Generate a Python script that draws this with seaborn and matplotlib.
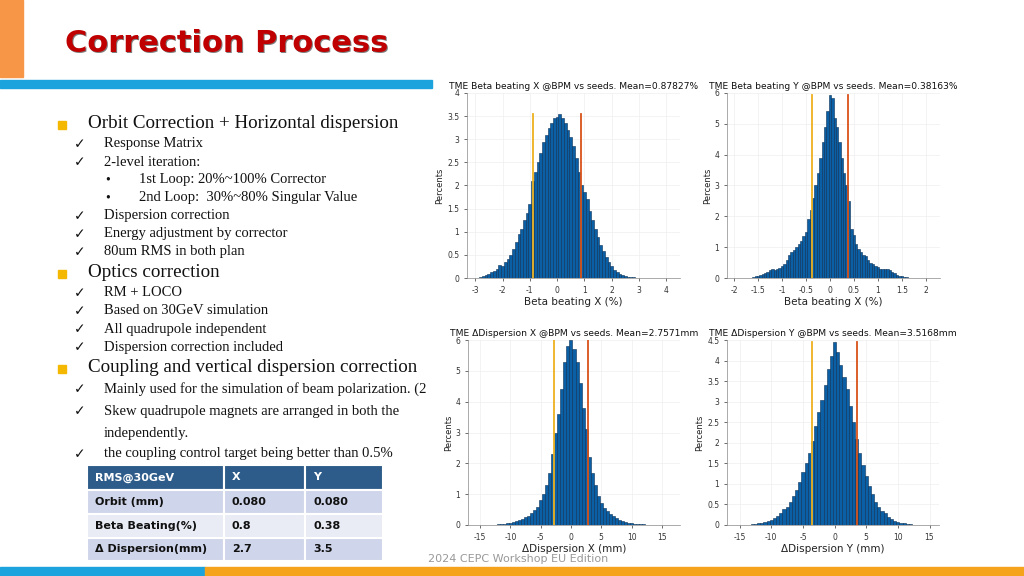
import numpy as np
import pandas as pd
import matplotlib
matplotlib.use("Agg")
import matplotlib.pyplot as plt
import seaborn as sns
from matplotlib.patches import Rectangle

# ---------------- data ----------------
bx_start, bx_w = -2.8, 0.1
bx_h = [0.02,0.04,0.06,0.08,0.12,0.16,0.2,0.28,0.25,0.35,0.42,0.5,0.62,0.78,0.95,1.05,1.25,1.4,1.6,2.1,
        2.3,2.5,2.7,2.95,3.1,3.25,3.35,3.45,3.48,3.55,3.45,3.35,3.2,3.05,2.85,2.6,2.3,2.0,1.85,1.7,
        1.45,1.25,1.05,0.88,0.72,0.58,0.45,0.35,0.25,0.18,0.12,0.09,0.06,0.04,0.03,0.02,0.015,0.01,0.01]
by_start, by_w = -1.6, 0.05
by_h = [0.02,0.05,0.08,0.1,0.12,0.15,0.2,0.25,0.28,0.27,0.3,0.33,0.38,0.45,0.6,0.75,0.85,0.9,1.0,1.1,
        1.2,1.35,1.5,1.9,2.2,2.6,3.0,3.4,3.9,4.4,4.9,5.4,5.95,5.85,5.2,4.9,4.4,3.9,3.4,3.0,
        2.5,1.6,1.4,1.1,0.95,0.85,0.75,0.7,0.6,0.5,0.45,0.4,0.35,0.3,0.28,0.3,0.28,0.25,0.2,0.15,
        0.1,0.07,0.05,0.03,0.02]
dx_start, dx_w = -12.0, 0.5
dx_h = [0.02,0.03,0.04,0.05,0.07,0.1,0.12,0.16,0.2,0.25,0.3,0.38,0.5,0.6,0.8,1.0,1.3,1.7,2.3,3.0,
        3.6,4.4,5.3,5.8,6.0,5.7,5.3,4.6,3.8,3.1,2.2,1.7,1.3,0.95,0.7,0.55,0.45,0.35,0.28,0.22,
        0.16,0.12,0.09,0.07,0.05,0.04,0.03,0.02,0.02]
dy_start, dy_w = -13.0, 0.5
dy_h = [0.02,0.03,0.04,0.05,0.07,0.09,0.12,0.16,0.22,0.3,0.38,0.45,0.55,0.7,0.85,1.05,1.3,1.5,1.75,2.05,
        2.4,2.75,3.05,3.4,3.8,4.1,4.45,4.2,3.9,3.6,3.3,2.9,2.5,2.1,1.75,1.45,1.2,0.95,0.75,0.55,
        0.45,0.35,0.28,0.2,0.15,0.1,0.07,0.05,0.04,0.03,0.02]

panels = [
    dict(start=bx_start, w=bx_w, h=bx_h, mean=0.87827, title="TME Beta beating X @BPM vs seeds. Mean=0.87827%",
         xlabel="Beta beating X (%)", xlim=(-3.3, 4.5), ylim=(0, 4), xt=[-3,-2,-1,0,1,2,3,4],
         yt=[0,0.5,1,1.5,2,2.5,3,3.5,4], pos=(467, 93, 680, 278)),
    dict(start=by_start, w=by_w, h=by_h, mean=0.38163, title="TME Beta beating Y @BPM vs seeds. Mean=0.38163%",
         xlabel="Beta beating X (%)", xlim=(-2.15, 2.3), ylim=(0, 6), xt=[-2,-1.5,-1,-0.5,0,0.5,1,1.5,2],
         yt=[0,1,2,3,4,5,6], pos=(727, 93, 940, 278)),
    dict(start=dx_start, w=dx_w, h=dx_h, mean=2.7571, title="TME \u0394Dispersion X @BPM vs seeds. Mean=2.7571mm",
         xlabel="\u0394Dispersion X (mm)", xlim=(-17, 18), ylim=(0, 6), xt=[-15,-10,-5,0,5,10,15],
         yt=[0,1,2,3,4,5,6], pos=(468, 340, 680, 525)),
    dict(start=dy_start, w=dy_w, h=dy_h, mean=3.5168, title="TME \u0394Dispersion Y @BPM vs seeds. Mean=3.5168mm",
         xlabel="\u0394Dispersion Y (mm)", xlim=(-17, 16.5), ylim=(0, 4.5), xt=[-15,-10,-5,0,5,10,15],
         yt=[0,0.5,1,1.5,2,2.5,3,3.5,4,4.5], pos=(727, 340, 939, 525)),
]

table_rows = [["RMS@30GeV", "X", "Y"],
              ["Orbit (mm)", "0.080", "0.080"],
              ["Beta Beating(%)", "0.8", "0.38"],
              ["\u0394 Dispersion(mm)", "2.7", "3.5"]]

bullets = [
    ("sq", "Orbit Correction + Horizontal dispersion", 124),
    ("ck", "Response Matrix", 144),
    ("ck", "2-level iteration:", 162),
    ("dot", "1st Loop: 20%~100% Corrector", 180),
    ("dot", "2nd Loop:  30%~80% Singular Value", 198),
    ("ck", "Dispersion correction", 216),
    ("ck", "Energy adjustment by corrector", 234),
    ("ck", "80um RMS in both plan", 252),
    ("sq", "Optics correction", 273),
    ("ck", "RM + LOCO", 293),
    ("ck", "Based on 30GeV simulation", 311),
    ("ck", "All quadrupole independent", 329),
    ("ck", "Dispersion correction included", 347),
    ("sq", "Coupling and vertical dispersion correction", 368),
    ("ck", "Mainly used for the simulation of beam polarization. (2", 389),
    ("ck", "Skew quadrupole magnets are arranged in both the", 411),
    ("", "independently.", 433),
    ("ck", "the coupling control target being better than 0.5%", 454),
]

# ---------------- figure ----------------
W, H = 1024, 576
fig = plt.figure(figsize=(10.24, 5.76), dpi=100)
fig.patch.set_facecolor("white")

def fx(x): return x / W
def fy(y): return 1 - y / H

fig.patches.append(Rectangle((0, fy(77)), fx(23), 77 / H, transform=fig.transFigure, color="#F79646", zorder=0))
fig.patches.append(Rectangle((0, fy(88)), fx(432), 8 / H, transform=fig.transFigure, color="#1CA3DD", zorder=0))
fig.patches.append(Rectangle((0, 0), fx(205), 9 / H, transform=fig.transFigure, color="#1CA3DD", zorder=0))
fig.patches.append(Rectangle((fx(205), 0), 1 - fx(205), 9 / H, transform=fig.transFigure, color="#F5A31A", zorder=0))

fig.text(fx(66.5), fy(44.5), "Correction Process", fontsize=22, fontweight="bold", color="#7F7F7F",
         va="center", ha="left", family="DejaVu Sans")
fig.text(fx(65), fy(43), "Correction Process", fontsize=22, fontweight="bold", color="#C00000",
         va="center", ha="left", family="DejaVu Sans")

serif = "Liberation Serif"
for kind, txt, y in bullets:
    if kind == "sq":
        fig.patches.append(Rectangle((fx(58), fy(y + 5)), fx(8), 8 / H, transform=fig.transFigure, color="#F5B800"))
        fig.text(fx(88), fy(y), txt, fontsize=13.7, family=serif, va="center", color="#111111")
    elif kind == "ck":
        fig.text(fx(74), fy(y), "\u2713", fontsize=10, family="DejaVu Sans", va="center", color="#111111")
        fig.text(fx(104), fy(y), txt, fontsize=10.5, family=serif, va="center", color="#111111")
    elif kind == "dot":
        fig.text(fx(105), fy(y), "\u2022", fontsize=10, family=serif, va="center", color="#111111")
        fig.text(fx(139), fy(y), txt, fontsize=10.5, family=serif, va="center", color="#111111")
    else:
        fig.text(fx(104), fy(y), txt, fontsize=10.5, family=serif, va="center", color="#111111")

# table
col_x = [87, 224, 305, 383]
row_y = [465, 490, 514, 538, 561]
for r, row in enumerate(table_rows):
    for c, val in enumerate(row):
        x0, x1 = col_x[c], col_x[c + 1]
        y0, y1 = row_y[r], row_y[r + 1]
        color = "#2E5C8A" if r == 0 else ("#CFD5EA" if r % 2 == 1 else "#E9EBF5")
        fig.patches.append(Rectangle((fx(x0), fy(y1)), fx(x1 - x0), (y1 - y0) / H,
                                     transform=fig.transFigure, facecolor=color, edgecolor="white", lw=1.5))
        fig.text(fx(x0 + 8), fy((y0 + y1) / 2), val, fontsize=8, fontweight="bold",
                 color="white" if r == 0 else "#111111", va="center", family="DejaVu Sans")

fig.text(fx(428), fy(559), "2024 CEPC Workshop EU Edition", fontsize=8, color="#999999", va="center",
         zorder=-1)

# histograms
for p in panels:
    x0, y0, x1, y1 = p["pos"]
    ax = fig.add_axes([fx(x0), fy(y1), fx(x1 - x0), (y1 - y0) / H])
    n = len(p["h"])
    centers = p["start"] + p["w"] * np.arange(n)
    df = pd.DataFrame({"x": centers, "wt": p["h"]})
    lo = p["start"] - p["w"] / 2
    sns.histplot(data=df, x="x", weights="wt", binwidth=p["w"], binrange=(lo, lo + n * p["w"]),
                 ax=ax, color="#0B5FA5", alpha=1, edgecolor="#0A2F55", linewidth=0.4)
    top = max(p["h"])
    ax.plot([-p["mean"], -p["mean"]], [0, top], color="#EDB120", lw=1.3)
    ax.plot([p["mean"], p["mean"]], [0, top], color="#D95319", lw=1.3)
    ax.set_xlim(*p["xlim"]); ax.set_ylim(*p["ylim"])
    ax.set_xticks(p["xt"]); ax.set_yticks(p["yt"])
    ax.set_xticklabels([f"{v:g}" for v in p["xt"]])
    ax.set_yticklabels([f"{v:g}" for v in p["yt"]])
    ax.tick_params(labelsize=5.5, length=2, colors="#333333", width=0.5)
    ax.grid(True, color="#EEEEEE", lw=0.5)
    ax.set_axisbelow(True)
    for s in ["top", "right"]:
        ax.spines[s].set_visible(False)
    for s in ["left", "bottom"]:
        ax.spines[s].set_color("#888888"); ax.spines[s].set_linewidth(0.5)
    ax.set_title(p["title"], fontsize=6.6, pad=3, color="#111111")
    ax.set_xlabel(p["xlabel"], fontsize=7.5, labelpad=2, color="#222222")
    ax.set_ylabel("Percents", fontsize=6, labelpad=2, color="#222222")

fig.savefig("out.png", dpi=100)
